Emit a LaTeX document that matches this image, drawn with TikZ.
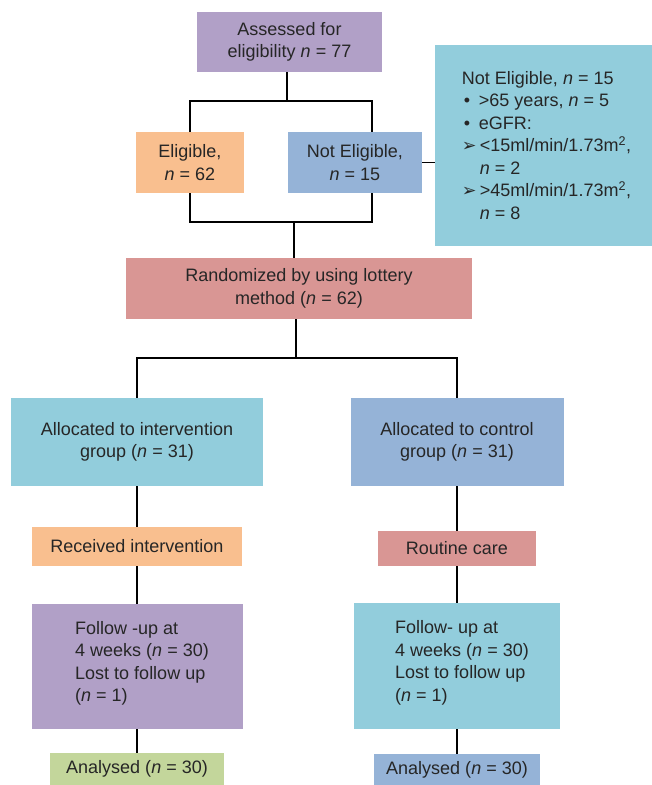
\documentclass[tikz,border=0pt]{standalone}
\usepackage{fontspec}
\setmainfont{Liberation Sans}
\newfontfamily\dejavu{DejaVu Sans}
\definecolor{purp}{HTML}{B1A0C7}
\definecolor{orng}{HTML}{F9BF8F}
\definecolor{blu}{HTML}{95B3D7}
\definecolor{teal}{HTML}{92CDDC}
\definecolor{pink}{HTML}{D99694}
\definecolor{grn}{HTML}{C3D69B}
\definecolor{txt}{HTML}{262626}
\newcommand{\bul}{\makebox[17pt][l]{\hspace*{2pt}•}}
\newcommand{\arr}{\makebox[18pt][l]{{\dejavu\fontsize{17.5}{17.5}\selectfont ➢}}}
\newcommand{\ind}{\hspace*{18pt}}
\begin{document}
\begin{tikzpicture}[x=1pt,y=-1pt,
  box/.style={draw=none, inner sep=0pt, align=center, text=txt,
    font=\fontsize{18}{22.5}\selectfont},
  conn/.style={line width=1.8pt, black}]
\useasboundingbox (0,0) rectangle (652,785);
\fill[white] (0,0) rectangle (652,785);

\node[box, fill=purp, minimum width=185pt, minimum height=60pt] (assess) at (289.5,42) {Assessed for\\eligibility \textit{n} = 77};
\node[box, fill=orng, minimum width=108pt, minimum height=61pt] (elig) at (190,162.5) {Eligible,\\\textit{n} = 62};
\node[box, fill=blu, minimum width=134pt, minimum height=61pt] (nelig) at (355,162.5) {Not Eligible,\\\textit{n} = 15};
\node[box, fill=teal, minimum width=217pt, minimum height=201pt, align=left] (side) at (543.5,145.5)
  {\hspace*{6pt}Not Eligible, \textit{n} = 15\\
   \hspace*{6pt}\bul{}>65 years, \textit{n} = 5\\
   \hspace*{6pt}\bul{}eGFR:\\
   \hspace*{6pt}\arr{}<15ml/min/1.73m\textsuperscript{2},\\
   \hspace*{6pt}\ind\textit{n} = 2\\
   \hspace*{6pt}\arr{}>45ml/min/1.73m\textsuperscript{2},\\
   \hspace*{6pt}\ind\textit{n} = 8};
\node[box, fill=pink, minimum width=346pt, minimum height=61pt] (rand) at (299,288.5) {Randomized by using lottery\\method (\textit{n} = 62)};
\node[box, fill=teal, minimum width=252pt, minimum height=88pt] (allocI) at (137,442) {Allocated to intervention\\group (\textit{n} = 31)};
\node[box, fill=blu, minimum width=213pt, minimum height=88pt] (allocC) at (457,442) {Allocated to control\\group (\textit{n} = 31)};
\node[box, fill=orng, minimum width=210pt, minimum height=39pt] (recv) at (137,546.5) {Received intervention};
\node[box, fill=pink, minimum width=158pt, minimum height=35pt] (rout) at (457,548.5) {Routine care};
\node[box, fill=purp, minimum width=211pt, minimum height=125pt, align=left] (fuI) at (137,666.5)
  {\hspace*{10pt}Follow -up at\\\hspace*{10pt}4 weeks (\textit{n} = 30)\\\hspace*{10pt}Lost to follow up\\\hspace*{10pt}(\textit{n} = 1)\\[-12pt]};
\node[box, fill=teal, minimum width=206pt, minimum height=126pt, align=left] (fuC) at (457,666)
  {\hspace*{10pt}Follow- up at\\\hspace*{10pt}4 weeks (\textit{n} = 30)\\\hspace*{10pt}Lost to follow up\\\hspace*{10pt}(\textit{n} = 1)\\[-12pt]};
\node[box, fill=grn, minimum width=174pt, minimum height=32pt] (anI) at (137,769) {Analysed (\textit{n} = 30)};
\node[box, fill=blu, minimum width=166pt, minimum height=31pt] (anC) at (457,769.5) {Analysed (\textit{n} = 30)};

\coordinate (j1) at (287,101);
\coordinate (neTop) at (372,132);
\coordinate (neBot) at (372,193);
\coordinate (j2) at (294,222);
\coordinate (j3) at (296,358);

\draw[conn] (assess.south -| j1) -- (j1);
\draw[conn] (elig.north) |- (j1) -| (neTop);
\draw[conn] (elig.south) |- (j2) -| (neBot);
\draw[conn] (j2) -- (rand.north -| j2);
\draw[conn] (nelig.east) -- (nelig.east -| side.west);
\draw[conn] (rand.south -| j3) -- (j3);
\draw[conn] (allocI.north) |- (j3) -| (allocC.north);
\draw[conn] (allocI.south) -- (recv.north);
\draw[conn] (allocC.south) -- (rout.north);
\draw[conn] (recv.south) -- (fuI.north);
\draw[conn] (rout.south) -- (fuC.north);
\draw[conn] (fuI.south) -- (anI.north);
\draw[conn] (fuC.south) -- (anC.north);
\end{tikzpicture}
\end{document}
